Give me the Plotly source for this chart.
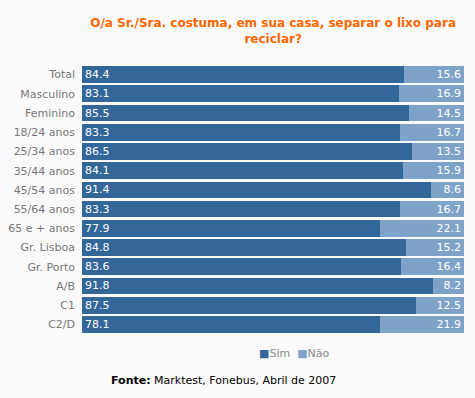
import plotly.graph_objects as go

categories = ["Total", "Masculino", "Feminino", "18/24 anos", "25/34 anos", "35/44 anos",
              "45/54 anos", "55/64 anos", "65 e + anos", "Gr. Lisboa", "Gr. Porto",
              "A/B", "C1", "C2/D"]
sim = [84.4, 83.1, 85.5, 83.3, 86.5, 84.1, 91.4, 83.3, 77.9, 84.8, 83.6, 91.8, 87.5, 78.1]
nao = [15.6, 16.9, 14.5, 16.7, 13.5, 15.9, 8.6, 16.7, 22.1, 15.2, 16.4, 8.2, 12.5, 21.9]
series_names = ["Sim", "Não"]
series_colors = ["#336699", "#7fa3c8"]

font = "DejaVu Sans, Verdana, sans-serif"

fig = go.Figure()
fig.add_trace(go.Bar(
    y=categories, x=sim, name=series_names[0], orientation="h",
    marker=dict(color=series_colors[0], line=dict(width=0)),
    text=[f"{v:.1f}" for v in sim], textposition="inside", insidetextanchor="start",
    textfont=dict(color="white", size=11, family=font), constraintext="none",
))
fig.add_trace(go.Bar(
    y=categories, x=nao, name=series_names[1], orientation="h",
    marker=dict(color=series_colors[1], line=dict(width=0)),
    text=[f"{v:.1f}" for v in nao], textposition="inside", insidetextanchor="end",
    textfont=dict(color="white", size=11, family=font), constraintext="none",
))

legend_text = "  ".join(
    f"<span style='color:{c}'>■</span><span style='color:#888888'>{n}</span>"
    for n, c in zip(series_names, series_colors)
)

fig.update_layout(
    width=475, height=398,
    barmode="stack", bargap=0.13,
    paper_bgcolor="#fafafa", plot_bgcolor="#fafafa",
    margin=dict(l=82, r=11, t=65, b=64),
    font=dict(family=font, size=11, color="#666666"),
    title=dict(text="<b>O/a Sr./Sra. costuma, em sua casa, separar o lixo para<br>reciclar?</b>",
               x=0.575, xanchor="center", y=1 - 27 / 398, yanchor="middle",
               yref="container", font=dict(color="#ff6600", size=12, family=font)),
    xaxis=dict(range=[0, 100], visible=False, fixedrange=True, automargin=False),
    yaxis=dict(autorange="reversed", ticks="", ticklabelstandoff=6, automargin=False,
               tickfont=dict(color="#777777", size=11), showgrid=False),
    showlegend=False,
    annotations=[
        dict(text=legend_text, xref="paper", yref="paper", x=0.555, y=-0.074,
             xanchor="center", yanchor="middle", showarrow=False,
             font=dict(size=11, family=font)),
        dict(text="<b>Fonte:</b> Marktest, Fonebus, Abril de 2007",
             xref="paper", yref="paper", x=0.37, y=-0.174, xanchor="center", yanchor="middle",
             showarrow=False, font=dict(color="black", size=11, family=font)),
    ],
)

fig.write_html("out.html", config={"displayModeBar": False},
               post_script="document.body.style.margin='0';document.body.style.background='#fafafa';")
